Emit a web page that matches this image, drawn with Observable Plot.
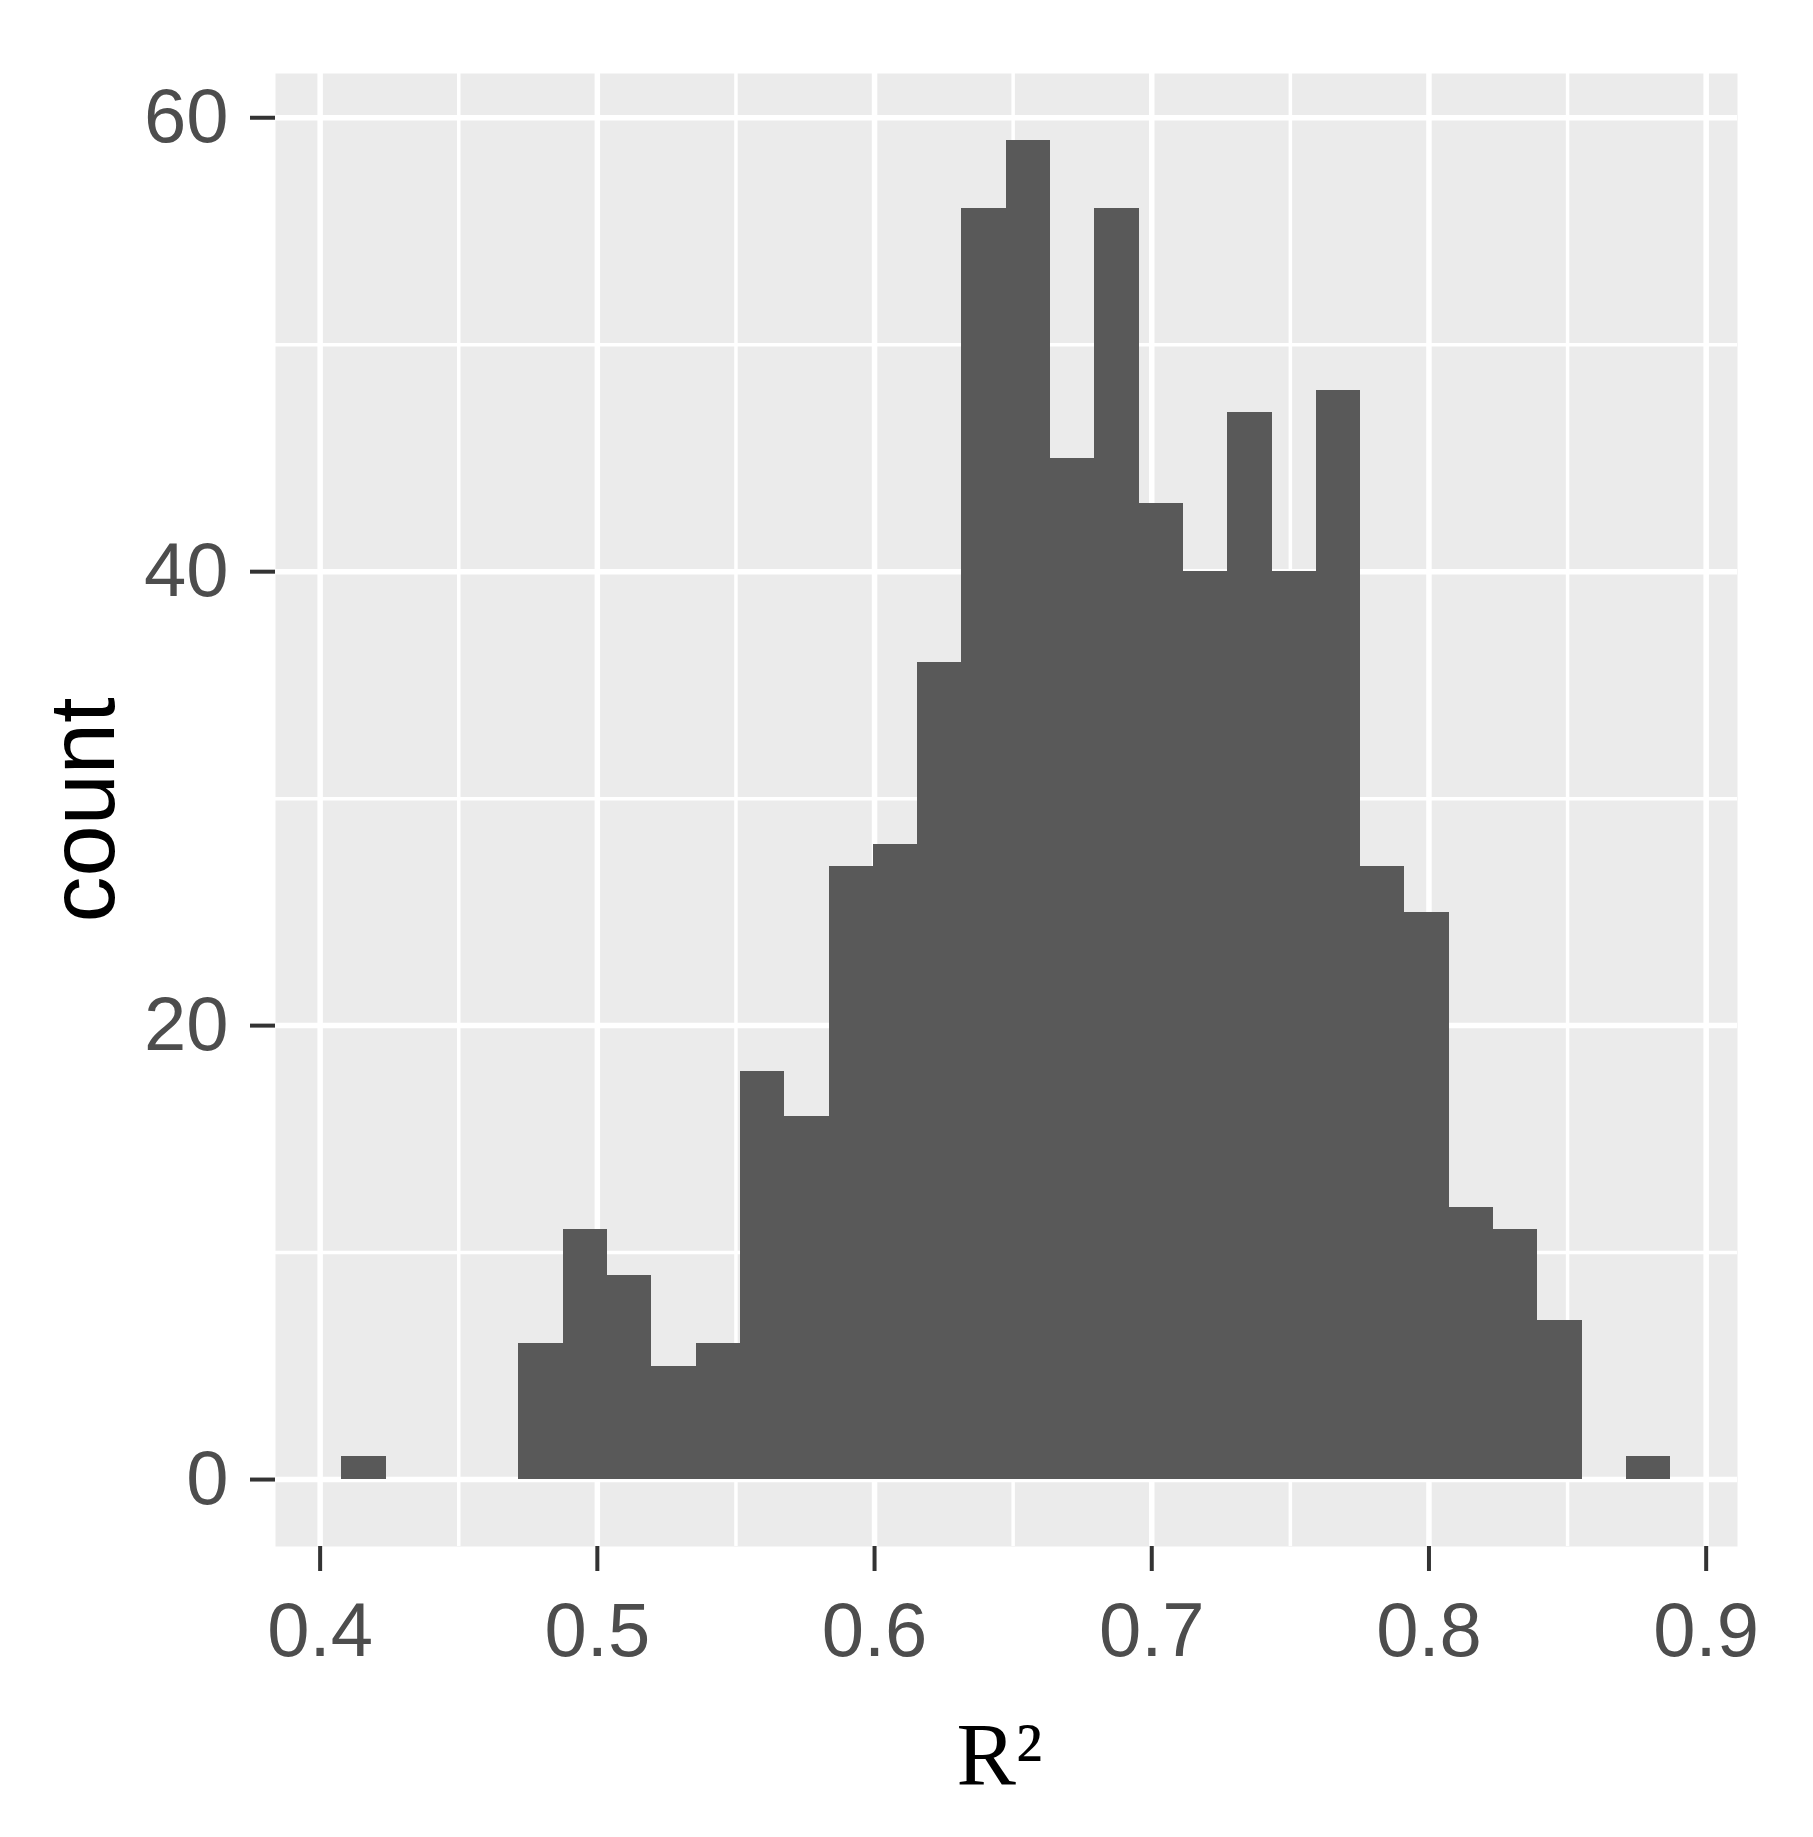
<!DOCTYPE html>
<html>
<head>
<meta charset="utf-8">
<script src="https://cdn.jsdelivr.net/npm/d3@7"></script>
<script src="https://cdn.jsdelivr.net/npm/@observablehq/plot@0.6"></script>
<style>
  html, body { margin: 0; padding: 0; background: #ffffff; }
  #chart svg { display: block; }
</style>
</head>
<body>
<div id="chart"></div>
<script>
// Histogram of R² (30 bins)
const binCenters = [0.4158, 0.4318, 0.4478, 0.4637, 0.4797, 0.4957, 0.5117, 0.5277, 0.5436, 0.5596,
                    0.5756, 0.5916, 0.6076, 0.6235, 0.6395, 0.6555, 0.6715, 0.6875, 0.7034, 0.7194,
                    0.7354, 0.7514, 0.7674, 0.7833, 0.7993, 0.8153, 0.8313, 0.8473, 0.8632, 0.8792];
const counts = [1, 0, 0, 0, 6, 11, 9, 5, 6, 18,
                16, 27, 28, 36, 56, 59, 45, 56, 43, 40,
                47, 40, 48, 27, 25, 12, 11, 7, 0, 1];
const binWidth = 0.01598;

const xTicks = [0.4, 0.5, 0.6, 0.7, 0.8, 0.9];
const xMinor = [0.45, 0.55, 0.65, 0.75, 0.85];
const yTicks = [0, 20, 40, 60];
const yMinor = [10, 30, 50];
const xLabel = "R²";
const yLabel = "count";

const bins = binCenters.map((c, i) => ({x1: c - binWidth / 2, x2: c + binWidth / 2, count: counts[i]}))
  .filter(d => d.count > 0);

const chart = Plot.plot({
  width: 1813,
  height: 1837,
  marginLeft: 275,
  marginRight: 76,
  marginTop: 73,
  marginBottom: 291,
  style: {fontFamily: "'Liberation Sans', Arial, sans-serif", fontSize: "76px", background: "#ffffff"},
  x: {domain: [0.3839, 0.9113]},
  y: {domain: [-2.95, 61.95]},
  marks: [
    Plot.frame({fill: "#EBEBEB", stroke: "none"}),
    Plot.gridX(xMinor, {stroke: "#ffffff", strokeOpacity: 1, strokeWidth: 3.5}),
    Plot.gridY(yMinor, {stroke: "#ffffff", strokeOpacity: 1, strokeWidth: 3.5}),
    Plot.gridX(xTicks, {stroke: "#ffffff", strokeOpacity: 1, strokeWidth: 5.5}),
    Plot.gridY(yTicks, {stroke: "#ffffff", strokeOpacity: 1, strokeWidth: 5.5}),
    Plot.rectY(bins, {x1: "x1", x2: "x2", y1: 0, y2: "count", fill: "#595959", shapeRendering: "crispEdges"}),
    Plot.axisX(xTicks, {
      tickSize: 25, tickPadding: 31, stroke: "#333333", strokeWidth: 4, fill: "#4D4D4D",
      fontSize: 76, tickFormat: d3.format(".1f"), label: null
    }),
    Plot.axisY(yTicks, {
      tickSize: 25, tickPadding: 22, stroke: "#333333", strokeWidth: 4, fill: "#4D4D4D",
      fontSize: 76, tickFormat: d => String(d), label: null
    }),
    Plot.text([yLabel], {
      text: d => d, frameAnchor: "left", textAnchor: "middle", lineAnchor: "middle",
      rotate: -90, dx: -191, fontSize: 92, fill: "#000000",
      fontFamily: "'Liberation Sans', Arial, sans-serif"
    }),
    Plot.text([xLabel], {
      text: d => d, frameAnchor: "bottom", textAnchor: "middle", lineAnchor: "middle",
      dy: 209, dx: -7, fontSize: 89, fill: "#000000",
      fontFamily: "'Liberation Serif', 'Times New Roman', serif"
    })
  ]
});

document.getElementById("chart").appendChild(chart);
</script>
</body>
</html>
